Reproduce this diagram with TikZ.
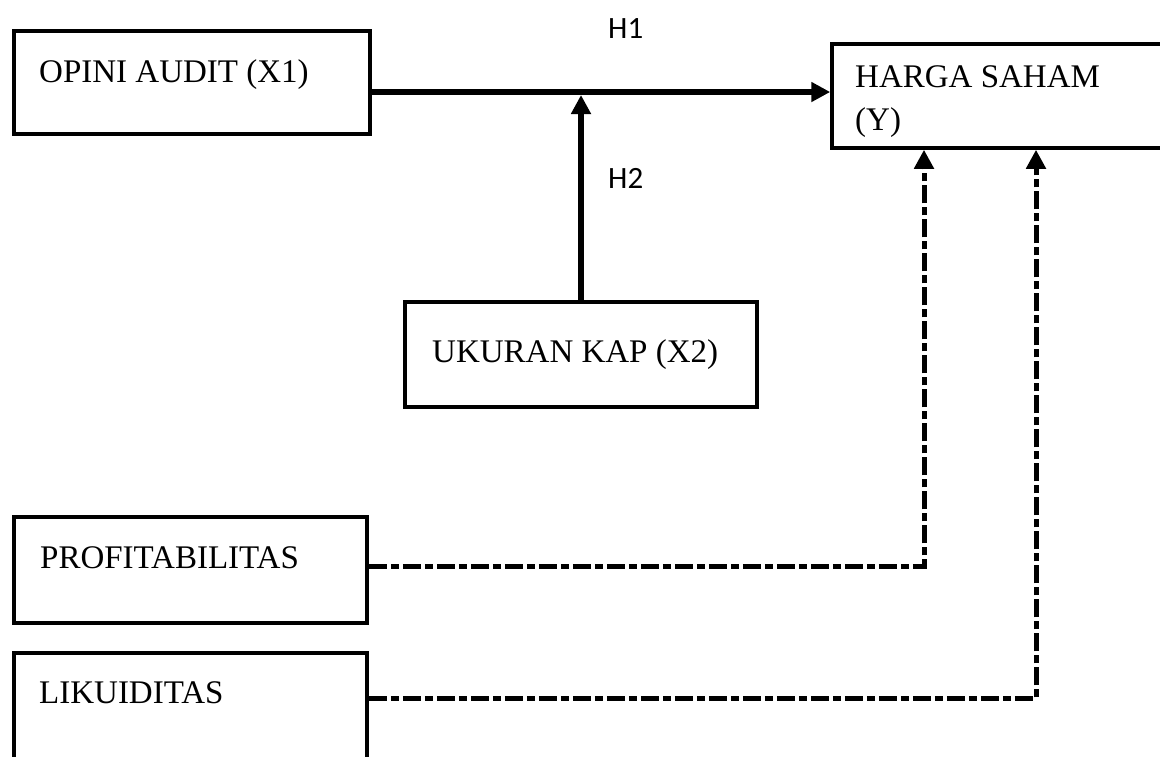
\documentclass[tikz,border=0pt]{standalone}
\usepackage{fontspec}
\setmainfont{Liberation Serif}
\newfontfamily\hfont{Carlito}
\usetikzlibrary{arrows.meta}
\tikzset{
  box/.style={draw=black, line width=3.5pt, rectangle, inner sep=0pt},
  lbl/.style={inner sep=0pt, anchor=base west, font=\fontsize{33}{40}\selectfont},
  hlbl/.style={inner sep=0pt, anchor=base west, font=\hfont\fontsize{31}{36}\selectfont},
  arr/.style={line width=6pt, -{Triangle[length=19pt,width=19pt]}},
  darr/.style={line width=5pt, dash pattern=on 18pt off 4pt on 8pt off 4pt, -{Triangle[length=19pt,width=19pt]}}
}
\begin{document}
\begin{tikzpicture}[x=1pt,y=-1pt]
\clip (0,0) rectangle (1160,756);
\fill[white] (0,0) rectangle (1160,756);
% boxes
\node[box, minimum width=356pt, minimum height=103pt] (op) at (192,82.5) {};
\node[box, minimum width=343pt, minimum height=104pt] (hs) at (1003.5,96) {};
\node[box, minimum width=352pt, minimum height=105pt] (uk) at (581,354.5) {};
\node[box, minimum width=353pt, minimum height=106pt] (pr) at (190.5,570) {};
\node[box, minimum width=353pt, minimum height=112pt] (lk) at (190.5,709) {};
% texts
\node[lbl] (top) at (39,82) {OPINI AUDIT (X1)};
\node[lbl] (ths1) at (855,87) {HARGA SAHAM};
\node[lbl] (ths2) at (855,130) {(Y)};
\node[lbl] (tuk) at (432,362) {UKURAN KAP (X2)};
\node[lbl] (tpr) at (40,568) {PROFITABILITAS};
\node[lbl] (tlk) at (39,703) {LIKUIDITAS};
\node[hlbl] (h1) at (608,38) {H1};
\node[hlbl] (h2) at (608,188) {H2};
% connectors
\coordinate (j) at (582,92);
\draw[arr] (op.east |- j) -- (hs.west |- j);
\draw[arr, shorten >=3pt] (uk.north) -- (uk.north |- j);
\coordinate (pc) at (924,566);
\coordinate (lc) at (1036,698);
\draw[darr] (pr.east |- pc) -- (pc) -- (pc |- hs.south);
\draw[darr] (lk.east |- lc) -- (lc) -- (lc |- hs.south);
\end{tikzpicture}
\end{document}
